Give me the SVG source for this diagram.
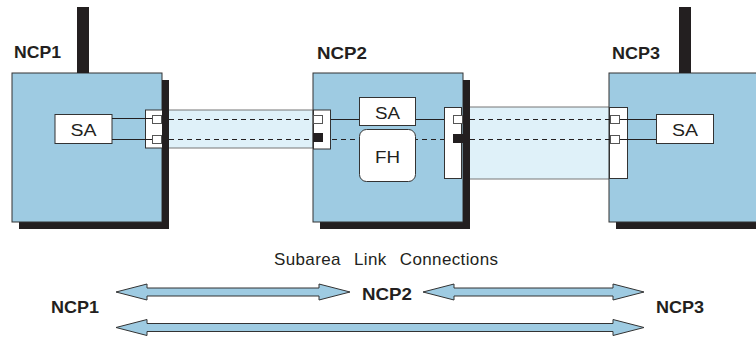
<svg xmlns="http://www.w3.org/2000/svg" width="756" height="339" viewBox="0 0 756 339">
<style>
.box{fill:#9ecbe2;stroke:#333;stroke-width:1}
.shadow{fill:#231f20}
.ant{fill:#231f20}
.port{fill:#fff;stroke:#333;stroke-width:1}
.sq{fill:#fff;stroke:#555;stroke-width:1}
.sqb{fill:#231f20;stroke:#231f20;stroke-width:1}
.chan{fill:#dff1f9;stroke:#777;stroke-width:1}
.solid{stroke:#231f20;stroke-width:1;fill:none}
.dash{stroke:#231f20;stroke-width:1;stroke-dasharray:5,4;fill:none}
.wbox{fill:#fff;stroke:#333;stroke-width:1}
.lbl{font-family:"Liberation Sans",Arial,sans-serif;font-weight:bold;font-size:17px;fill:#231f20}
.txt{font-family:"Liberation Sans",Arial,sans-serif;font-size:16px;fill:#231f20;text-anchor:middle}
.cap{font-family:"Liberation Sans",Arial,sans-serif;font-size:17px;fill:#231f20}
.arr{fill:#9ecbe2;stroke:#333;stroke-width:1}
</style>
<rect width="756" height="339" fill="#fff"/>
<g id="connectors">
<rect class="chan" x="162" y="110" width="151" height="38"/>
<rect class="chan" x="463" y="107" width="147" height="72"/>
</g>
<g id="ncp1">
<rect class="shadow" x="19" y="80" width="150" height="149"/>
<rect class="box" x="12" y="73" width="150" height="149"/>
<rect class="ant" x="77" y="7" width="12" height="66"/>
<text class="lbl" x="14" y="58" textLength="47" lengthAdjust="spacingAndGlyphs">NCP1</text>
<rect class="wbox" x="55" y="114.5" width="57" height="29"/>
<text class="txt" x="83.5" y="136" textLength="26" lengthAdjust="spacingAndGlyphs">SA</text>
<rect class="port" x="145.5" y="110" width="17" height="38"/>
<rect class="shadow" x="162" y="80" width="7" height="149"/>
<line class="solid" x1="112" y1="118.5" x2="152" y2="118.5"/>
<line class="solid" x1="112" y1="139.5" x2="152" y2="139.5"/>
<rect class="sq" x="152.5" y="115.5" width="9" height="8"/>
<rect class="sq" x="152.5" y="135.5" width="9" height="8"/>
</g>
<g id="ncp2">
<rect class="shadow" x="320" y="80" width="150" height="149"/>
<rect class="box" x="313" y="73" width="150" height="149"/>
<text class="lbl" x="317" y="59" textLength="50" lengthAdjust="spacingAndGlyphs">NCP2</text>
<line class="solid" x1="323" y1="119.5" x2="359" y2="119.5"/>
<line class="solid" x1="416" y1="119.5" x2="453" y2="119.5"/>
<line class="dash" x1="323" y1="139.5" x2="453" y2="139.5"/>
<rect class="wbox" x="359.5" y="97.5" width="56" height="28"/>
<text class="txt" x="387.5" y="119" textLength="25" lengthAdjust="spacingAndGlyphs">SA</text>
<rect class="wbox" x="359.5" y="129.5" width="56" height="52" rx="7"/>
<text class="txt" x="387.5" y="163" textLength="25" lengthAdjust="spacingAndGlyphs">FH</text>
<rect class="port" x="313.5" y="110" width="17" height="39"/>
<rect class="sq" x="313.5" y="115.5" width="9" height="8"/>
<rect class="sqb" x="313.5" y="133.5" width="9" height="8"/>
<rect class="port" x="444.5" y="107.5" width="17" height="71"/>
<rect class="shadow" x="463" y="80" width="7" height="149"/>
<rect class="sq" x="453.5" y="115.5" width="9" height="8"/>
<rect class="sqb" x="453.5" y="134.5" width="9" height="8"/>
</g>
<g id="ncp3">
<rect class="shadow" x="616" y="80" width="150" height="149"/>
<rect class="box" x="609" y="73" width="150" height="149"/>
<rect class="ant" x="679" y="7" width="12" height="66"/>
<text class="lbl" x="612" y="59" textLength="48" lengthAdjust="spacingAndGlyphs">NCP3</text>
<rect class="port" x="609.5" y="107.5" width="18" height="71"/>
<line class="solid" x1="620" y1="119.5" x2="656" y2="119.5"/>
<line class="solid" x1="620" y1="139.5" x2="656" y2="139.5"/>
<rect class="sq" x="610.5" y="115.5" width="9" height="8"/>
<rect class="sq" x="610.5" y="135.5" width="9" height="8"/>
<rect class="wbox" x="656.5" y="114.5" width="57" height="29"/>
<text class="txt" x="685" y="135.5" textLength="26" lengthAdjust="spacingAndGlyphs">SA</text>
</g>
<g id="dashes">
<line class="dash" x1="169" y1="119.5" x2="313" y2="119.5"/>
<line class="dash" x1="169" y1="139.5" x2="313" y2="139.5"/>
<line class="dash" x1="470" y1="119.5" x2="610" y2="119.5"/>
<line class="dash" x1="470" y1="139.5" x2="610" y2="139.5"/>
</g>
<g id="legend">
<text class="cap" x="274" y="265" textLength="224" lengthAdjust="spacing" word-spacing="8">Subarea Link Connections</text>
<path class="arr" d="M116,292 L147,284 L147,288 L319,288 L319,284 L350,292 L319,300 L319,296 L147,296 L147,300 Z"/>
<path class="arr" d="M423,292 L454,284 L454,288 L613,288 L613,284 L644,292 L613,300 L613,296 L454,296 L454,300 Z"/>
<path class="arr" d="M116,327.5 L147,319.5 L147,323.5 L613,323.5 L613,319.5 L644,327.5 L613,335.5 L613,331.5 L147,331.5 L147,335.5 Z"/>
<text class="lbl" x="51" y="313" textLength="48" lengthAdjust="spacingAndGlyphs">NCP1</text>
<text class="lbl" x="362" y="300" textLength="50" lengthAdjust="spacingAndGlyphs">NCP2</text>
<text class="lbl" x="656" y="313" textLength="48" lengthAdjust="spacingAndGlyphs">NCP3</text>
</g>
</svg>
